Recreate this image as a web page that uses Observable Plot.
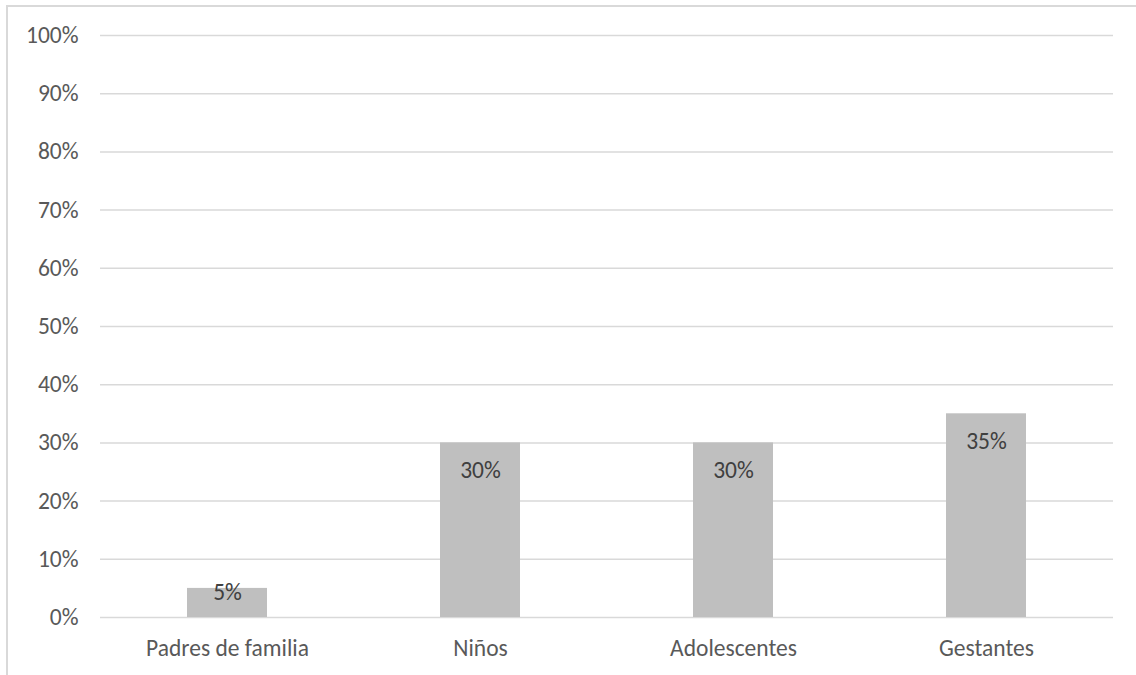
<!DOCTYPE html>
<html>
<head>
<meta charset="utf-8">
<script src="https://cdn.jsdelivr.net/npm/d3@7"></script>
<script src="https://cdn.jsdelivr.net/npm/@observablehq/plot@0.6"></script>
<style>
  html, body { margin: 0; padding: 0; background: #fff; }
  #wrap { position: relative; width: 1136px; height: 675px; overflow: hidden; }
  #frame { position: absolute; left: 6px; top: 5px; width: 1200px; height: 800px;
           border-top: 2px solid #d9d9d9; border-left: 2px solid #d9d9d9; box-sizing: border-box; }
  #chart { position: absolute; left: 0; top: 0; }
</style>
</head>
<body>
<div id="wrap"><div id="frame"></div><div id="chart"></div></div>
<script>
// Share of participants by group
const categories = ["Padres de familia", "Niños", "Adolescentes", "Gestantes"];
const shares = [0.05, 0.30, 0.30, 0.35];
const yTicks = [0, 0.1, 0.2, 0.3, 0.4, 0.5, 0.6, 0.7, 0.8, 0.9, 1.0];

const rows = categories.map((c, i) => ({group: c, value: shares[i]}));
const pct = d3.format(".0%");
const font = "Carlito, Calibri, Lato, 'Open Sans', sans-serif";
const fs = 23.5;

const chart = Plot.plot({
  width: 1136,
  height: 675,
  marginLeft: 100,
  marginRight: 23,
  marginTop: 35,
  marginBottom: 58,
  style: {fontFamily: font, fontSize: fs + "px", color: "#595959", background: "transparent"},
  x: {domain: categories, paddingInner: 0.683, paddingOuter: 0.3415, label: null},
  y: {domain: [0, 1], label: null},
  marks: [
    Plot.gridY(yTicks, {stroke: "#d9d9d9", strokeOpacity: 1, strokeWidth: 1.5}),
    Plot.barY(rows, {x: "group", y: "value", fill: "#bfbfbf"}),
    // labels sit just inside the bar end; a short bar keeps its label near the top edge
    Plot.text(rows.filter(d => d.value >= 0.1), {x: "group", y: "value", text: d => pct(d.value),
                     dy: 28, fill: "#404040", fontSize: fs}),
    Plot.text(rows.filter(d => d.value < 0.1), {x: "group", y: "value", text: d => pct(d.value),
                     dy: 4, fill: "#404040", fontSize: fs}),
    Plot.axisY(yTicks, {tickFormat: pct, tickSize: 0, tickPadding: 22, fill: "#595959",
                        fontSize: fs, label: null}),
    Plot.axisX({tickSize: 0, tickPadding: 22, fill: "#595959", fontSize: fs, label: null})
  ]
});
document.getElementById("chart").appendChild(chart);
</script>
</body>
</html>
